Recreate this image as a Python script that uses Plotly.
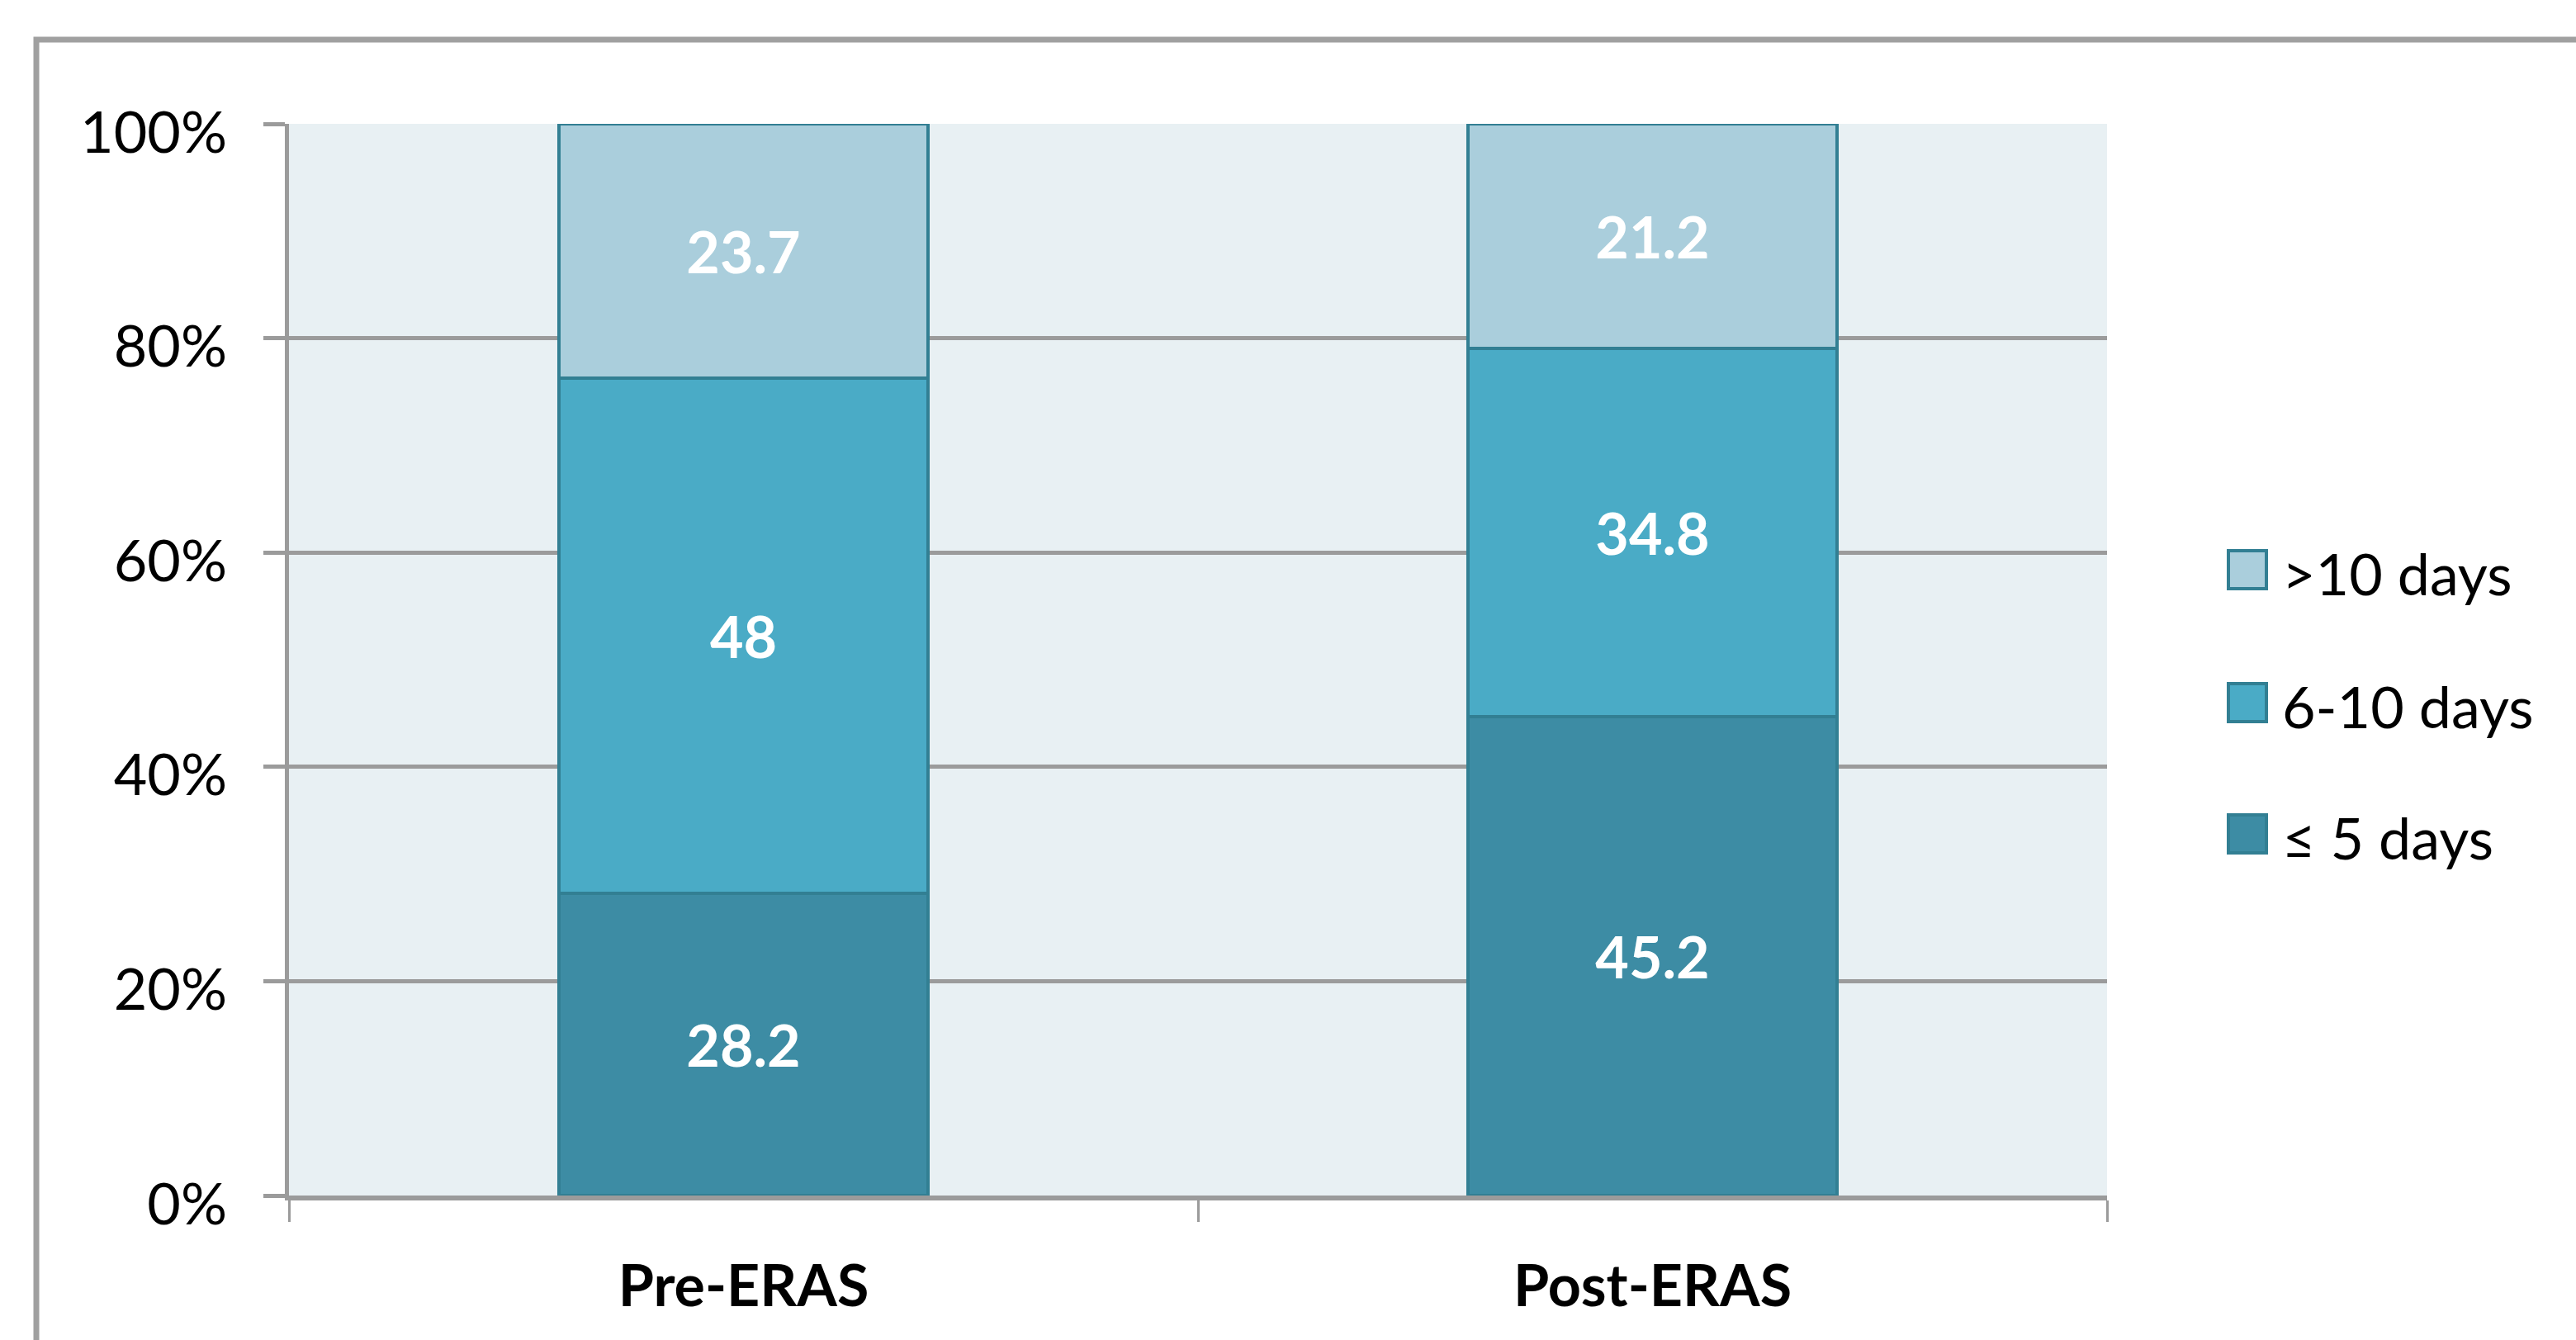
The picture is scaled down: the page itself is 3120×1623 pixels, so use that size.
import plotly.graph_objects as go

categories = ["Pre-ERAS", "Post-ERAS"]
series_names = ["≤ 5 days", "6-10 days", ">10 days"]
le5_days = [28.2, 45.2]
d6_10_days = [48, 34.8]
gt10_days = [23.7, 21.2]
series_values = [le5_days, d6_10_days, gt10_days]
series_colors = ["#3D8CA4", "#4AABC6", "#AACEDC"]
y_tick_values = [0, 20, 40, 60, 80, 100]
y_tick_labels = ["0%", "20%", "40%", "60%", "80%", "100%"]

FONT = "Lato, 'Open Sans', sans-serif"
EDGE = "#327F93"
GRID = "#9B9B9B"

W, H = 3120, 1623
ML, MR, MT, MB = 350, 568, 150, 175
PW, PH = W - ML - MR, H - MT - MB

fig = go.Figure()
for name, vals, col in zip(series_names, series_values, series_colors):
    fig.add_trace(go.Bar(
        x=categories, y=vals, name=name,
        marker=dict(color=col, line=dict(color=EDGE, width=4)),
        text=[f"{v:g}" for v in vals],
        textposition="inside", insidetextanchor="middle",
        textangle=0, constraintext="none",
        textfont=dict(family=FONT, size=70, color="white", weight="bold"),
        showlegend=False,
    ))

def px_x(px):
    return (px - ML) / PW

def px_y(py):
    return (H - MB - py) / PH

shapes = [
    # outer chart border (extends past right/bottom edges)
    dict(type="rect", xref="paper", yref="paper",
         x0=px_x(44), x1=px_x(3200), y0=px_y(1700), y1=px_y(48),
         line=dict(color="#A0A0A0", width=7), fillcolor="rgba(0,0,0,0)", layer="below"),
]
annotations = []
legend_order = list(reversed(range(len(series_names))))
legend_centers = [690, 851, 1010]
for idx, cy in zip(legend_order, legend_centers):
    shapes.append(dict(type="rect", xref="paper", yref="paper",
                       x0=px_x(2699), x1=px_x(2745), y0=px_y(cy + 23), y1=px_y(cy - 23),
                       fillcolor=series_colors[idx], line=dict(color=EDGE, width=4)))
    annotations.append(dict(xref="paper", yref="paper", x=px_x(2762), y=px_y(cy + 4),
                            text=series_names[idx], showarrow=False,
                            xanchor="left", yanchor="middle",
                            font=dict(family=FONT, size=70, color="black")))

fig.update_layout(
    width=W, height=H,
    margin=dict(l=ML, r=MR, t=MT, b=MB, pad=0),
    barmode="stack", barnorm="percent", bargap=0.594,
    paper_bgcolor="white", plot_bgcolor="#E8F0F3",
    font=dict(family=FONT, color="black"),
    shapes=shapes, annotations=annotations,
    showlegend=False,
    xaxis=dict(
        type="category", showline=True, linecolor=GRID, linewidth=6,
        ticks="outside", tickson="boundaries", ticklen=26, tickwidth=3, tickcolor=GRID,
        showgrid=False, ticklabelstandoff=44,
        tickfont=dict(family=FONT, size=70, color="black", weight="bold"),
    ),
    yaxis=dict(
        range=[0, 100], tickvals=y_tick_values, ticktext=y_tick_labels,
        showgrid=True, gridcolor=GRID, gridwidth=5, zeroline=False,
        showline=True, linecolor=GRID, linewidth=5,
        ticks="outside", ticklen=26, tickwidth=5, tickcolor=GRID,
        ticklabelstandoff=30, ticklabelshift=10,
        tickfont=dict(family=FONT, size=70, color="black"),
    ),
)

fig.write_html("out.html")
